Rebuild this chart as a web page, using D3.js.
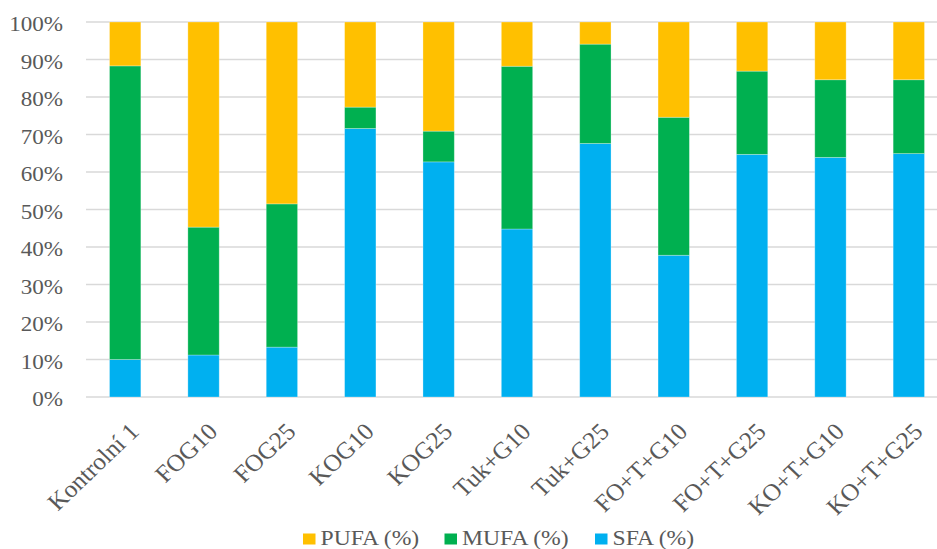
<!DOCTYPE html>
<html>
<head>
<meta charset="utf-8">
<script src="https://cdn.jsdelivr.net/npm/d3@7"></script>
<style>
  html, body { margin: 0; padding: 0; background: #fff; }
  svg { display: block; font-family: "Liberation Serif", "Times New Roman", serif; }
  svg text { font-family: "Liberation Serif", "Times New Roman", serif; fill: #595959; }
</style>
</head>
<body>
<svg id="chart" width="937" height="549"></svg>
<script>
// Fatty acid composition per sample (% of total fatty acids)
const categories = ["Kontrolní 1", "FOG10", "FOG25", "KOG10", "KOG25", "Tuk+G10", "Tuk+G25",
                    "FO+T+G10", "FO+T+G25", "KO+T+G10", "KO+T+G25"];
const sfa  = [10.0, 11.2, 13.3, 71.6, 62.7, 44.8, 67.6, 37.8, 64.7, 63.9, 64.9];
const mufa = [78.3, 34.1, 38.2,  5.7,  8.2, 43.4, 26.5, 36.8, 22.2, 20.7, 19.7];
const pufa = [11.7, 54.7, 48.5, 22.7, 29.1, 11.8,  5.9, 25.4, 13.1, 15.4, 15.4];
const yTicks = [0, 10, 20, 30, 40, 50, 60, 70, 80, 90, 100];

const seriesNames = ["SFA (%)", "MUFA (%)", "PUFA (%)"];
const seriesColors = { "SFA (%)": "#00B0F0", "MUFA (%)": "#00B050", "PUFA (%)": "#FFC000" };
const legendOrder = ["PUFA (%)", "MUFA (%)", "SFA (%)"];

const rows = categories.map((c, i) => ({
  cat: c, "SFA (%)": sfa[i], "MUFA (%)": mufa[i], "PUFA (%)": pufa[i]
}));
// normalise each row to 100 %
rows.forEach(r => {
  const t = seriesNames.reduce((s, k) => s + r[k], 0);
  seriesNames.forEach(k => r[k] = r[k] / t * 100);
});

const svg = d3.select("#chart");
const plotLeft = 86, plotRight = 948, plotTop = 22, plotBottom = 397;
const stretch = 1.1;   // text is set slightly wide

const x = d3.scaleBand().domain(categories).range([plotLeft, plotRight]).paddingInner(0.6).paddingOuter(0.3);
const y = d3.scaleLinear().domain([0, 100]).range([plotBottom, plotTop]);

// gridlines
svg.append("g")
  .selectAll("line")
  .data(yTicks)
  .join("line")
  .attr("x1", plotLeft).attr("x2", 937)
  .attr("y1", d => y(d)).attr("y2", d => y(d))
  .attr("stroke", "#d9d9d9").attr("stroke-width", 1.3);

// y axis labels
const yAxis = d3.axisLeft(y).tickValues(yTicks).tickFormat(d => d + "%").tickSize(0).tickPadding(0);
const yg = svg.append("g").attr("transform", `translate(63,0)`).call(yAxis);
yg.select(".domain").remove();
yg.selectAll("text")
  .attr("font-size", 21).attr("fill", "#595959")
  .attr("dy", "0.42em")
  .attr("transform", `scale(${stretch},1)`);

// stacked bars
const stack = d3.stack().keys(seriesNames);
const layers = stack(rows);
svg.append("g")
  .selectAll("g")
  .data(layers)
  .join("g")
  .attr("fill", d => seriesColors[d.key])
  .selectAll("rect")
  .data(d => d)
  .join("rect")
  .attr("x", d => x(d.data.cat))
  .attr("width", x.bandwidth())
  .attr("y", d => y(d[1]))
  .attr("height", d => y(d[0]) - y(d[1]))
  .attr("stroke", "#ffffff").attr("stroke-opacity", 0.35).attr("stroke-width", 0.8);

// x axis labels, rotated 45°
const xAxis = d3.axisBottom(x).tickSize(0).tickPadding(0);
const xg = svg.append("g").attr("transform", `translate(0,${plotBottom})`).call(xAxis);
xg.select(".domain").remove();
xg.selectAll("text")
  .attr("font-size", 24).attr("fill", "#595959")
  .attr("text-anchor", "end")
  .attr("y", 0)
  .attr("transform", "translate(9,30) scale(1.05,1) rotate(-45)")
  .attr("dy", "0.35em");

// legend
const legendX = { "PUFA (%)": 303, "MUFA (%)": 444.5, "SFA (%)": 595 };
const lg = svg.append("g");
legendOrder.forEach(k => {
  lg.append("rect").attr("x", legendX[k]).attr("y", 533.5).attr("width", 12.5).attr("height", 11)
    .attr("fill", seriesColors[k]);
  lg.append("text")
    .attr("transform", `translate(${legendX[k] + 17.5},545) scale(${stretch},1)`)
    .attr("font-size", 21.5).attr("fill", "#595959").text(k);
});
</script>
</body>
</html>
